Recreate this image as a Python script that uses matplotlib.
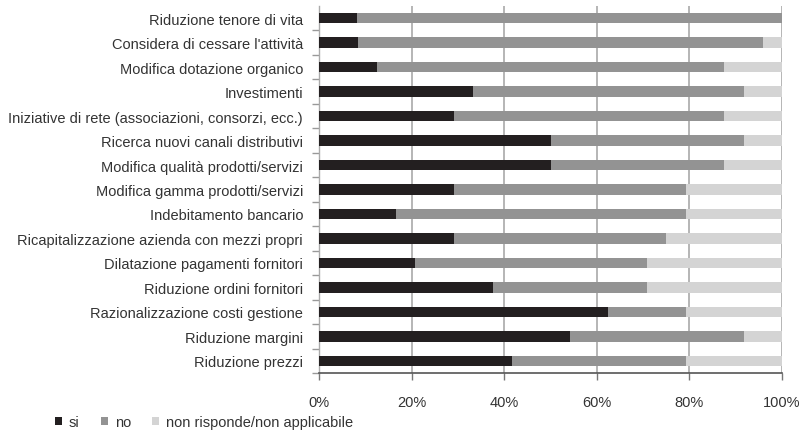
import matplotlib
matplotlib.use("Agg")
import matplotlib.pyplot as plt
from matplotlib.patches import Patch
import numpy as np

plt.rcParams['font.family'] = ['Liberation Sans', 'DejaVu Sans']

categories = [
    "Riduzione tenore di vita",
    "Considera di cessare l'attività",
    "Modifica dotazione organico",
    "Investimenti",
    "Iniziative di rete (associazioni, consorzi, ecc.)",
    "Ricerca nuovi canali distributivi",
    "Modifica qualità prodotti/servizi",
    "Modifica gamma prodotti/servizi",
    "Indebitamento bancario",
    "Ricapitalizzazione azienda con mezzi propri",
    "Dilatazione pagamenti fornitori",
    "Riduzione ordini fornitori",
    "Razionalizzazione costi gestione",
    "Riduzione margini",
    "Riduzione prezzi",
]
si = [8.3, 8.5, 12.5, 33.3, 29.2, 50.0, 50.0, 29.2, 16.7, 29.2, 20.8, 37.5, 62.5, 54.2, 41.7]
no = [91.7, 87.5, 75.0, 58.4, 58.3, 41.7, 37.5, 50.0, 62.5, 45.8, 50.0, 33.3, 16.7, 37.5, 37.5]
nr = [0.0, 4.0, 12.5, 8.3, 12.5, 8.3, 12.5, 20.8, 20.8, 25.0, 29.2, 29.2, 20.8, 8.3, 20.8]
series_names = ["si", "no", "non risponde/non applicabile"]
xticks = [0, 20, 40, 60, 80, 100]
xticklabels = ["0%", "20%", "40%", "60%", "80%", "100%"]

colors = ["#231f20", "#939393", "#d4d4d4"]
text_color = "#333333"
fs = 10.5

fig = plt.figure(figsize=(8.02, 4.31), dpi=100)
ax = fig.add_axes([319/802, 57/431, 463/802, 367/431])

y = np.arange(len(categories))
h = 0.43
si_a = np.array(si); no_a = np.array(no); nr_a = np.array(nr)
ax.barh(y, si_a, height=h, color=colors[0], zorder=3)
ax.barh(y, no_a, left=si_a, height=h, color=colors[1], zorder=3)
ax.barh(y, nr_a, left=si_a + no_a, height=h, color=colors[2], zorder=3)

ax.set_xlim(0, 100)
ax.set_ylim(len(categories) - 0.5, -0.5)
ax.set_xticks(xticks)
ax.set_xticklabels(xticklabels, fontsize=fs, color=text_color)
ax.set_yticks(y)
ax.set_yticklabels(categories, fontsize=fs, color=text_color)
ax.set_yticks(np.arange(0.5, len(categories), 1.0), minor=True)

for xv in xticks[1:]:
    ax.axvline(xv, color="#b0b0b0", lw=1.3, zorder=1)

ax.tick_params(axis='y', which='major', length=0, pad=11.5)
ax.tick_params(axis='y', which='minor', length=5, color="#999999", width=1)
ax.tick_params(axis='x', length=5, color="#777777", width=1, pad=10.5)

for s in ['top', 'right']:
    ax.spines[s].set_visible(False)
ax.spines['left'].set_color("#aaaaaa")
ax.spines['left'].set_linewidth(1)
ax.spines['bottom'].set_color("#555555")
ax.spines['bottom'].set_linewidth(1.2)

handles = [Patch(facecolor=c, edgecolor='none') for c in colors]
fig.legend(handles, series_names, loc='center left', bbox_to_anchor=(55/802, 1 - 423/431),
           ncol=3, frameon=False, fontsize=fs, handlelength=0.5, handleheight=0.5,
           handletextpad=0.45, columnspacing=1.45, labelcolor=text_color, borderaxespad=0,
           borderpad=0)

fig.savefig("out.png", dpi=100)
